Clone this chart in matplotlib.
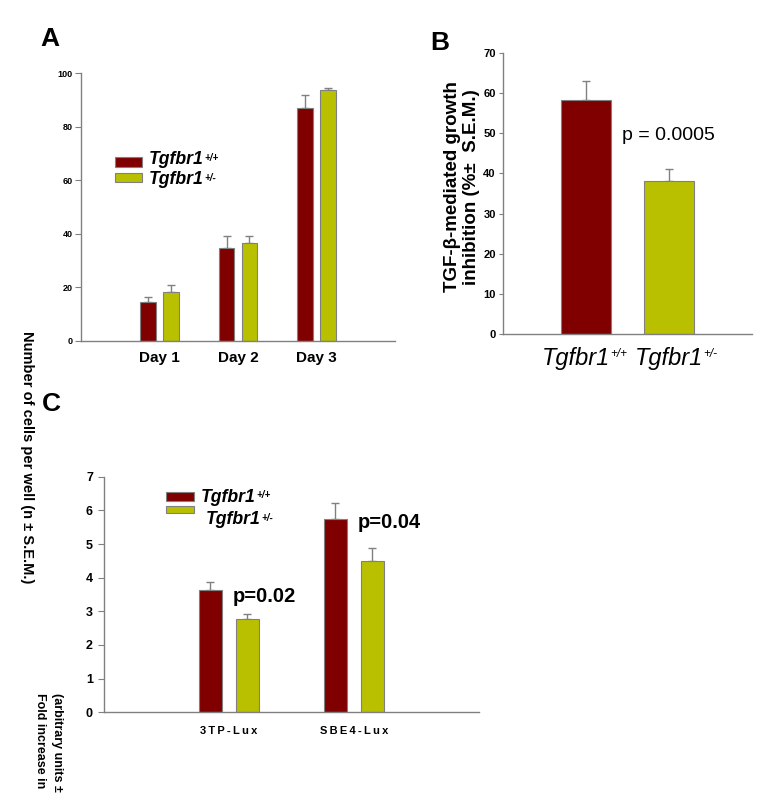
import matplotlib
matplotlib.use('Agg')
from matplotlib import pyplot as plt
from matplotlib.patches import Rectangle
from matplotlib.text import Annotation
import numpy as np

plt.rcParams['font.family'] = ['Liberation Sans', 'DejaVu Sans']

W, H = 777, 800
RED = '#800000'
GREEN = '#b8c000'
GRAY = '#808080'

# Panel A: cell counts per day
days = ['Day 1', 'Day 2', 'Day 3']
a_wt = [14.7, 34.7, 87.2]
a_wt_err = [1.8, 4.6, 4.6]
a_het = [18.2, 36.7, 93.6]
a_het_err = [2.7, 2.6, 1.0]

# Panel B: growth inhibition
b_vals = [58.3, 38.0]
b_err = [4.9, 3.0]

# Panel C: reporter activity
reporters = ['3TP-Lux', 'SBE4-Lux']
c_wt = [3.63, 5.75]
c_wt_err = [0.23, 0.46]
c_het = [2.76, 4.50]
c_het_err = [0.15, 0.39]

gene = 'Tgfbr1'
geno_wt = '+/+'
geno_het = '+/-'

fig = plt.figure(figsize=(W / 100, H / 100), dpi=100)


def px_axes(x0, y0, x1, y1):
    return fig.add_axes([x0 / W, 1 - y1 / H, (x1 - x0) / W, (y1 - y0) / H])


def style_axes(ax):
    for s in ['top', 'right']:
        ax.spines[s].set_visible(False)
    for s in ['left', 'bottom']:
        ax.spines[s].set_color(GRAY)
        ax.spines[s].set_linewidth(1.0)
    ax.tick_params(axis='y', color=GRAY, direction='out')
    ax.tick_params(axis='x', length=0)


def bars(ax, x, vals, err, color, width):
    ax.bar(x, vals, width=width, color=color, edgecolor=GRAY, linewidth=0.8, zorder=2)
    ax.errorbar(x, vals, yerr=[np.zeros(len(vals)), err], fmt='none',
                ecolor=GRAY, elinewidth=1, capsize=3, capthick=1, zorder=1)


def legend_patch(x, y, w, h, color):
    fig.add_artist(Rectangle((x / W, 1 - (y + h) / H), w / W, h / H,
                             transform=fig.transFigure, facecolor=color,
                             edgecolor=GRAY, linewidth=0.8))


def ftext(x, y, s, **kw):
    return fig.text(x / W, 1 - y / H, s, **kw)


def sup_label(x, y, base, sup, size, sup_size, ha='left', weight='normal'):
    t = ftext(x, y, base, fontsize=size, fontstyle='italic', fontweight=weight,
              ha=ha, va='center')
    a = Annotation(sup, xy=(1, 1), xycoords=t, xytext=(0.3, -1),
                   textcoords='offset points', fontsize=sup_size,
                   fontstyle='italic', fontweight=weight, ha='left', va='top')
    fig.add_artist(a)


# ---- Panel A
ax = px_axes(81, 73.3, 395, 341)
style_axes(ax)
xa = np.arange(len(days))
bars(ax, xa - 0.146, a_wt, a_wt_err, RED, 0.2)
bars(ax, xa + 0.146, a_het, a_het_err, GREEN, 0.2)
ax.set_xlim(-1, 3)
ax.set_ylim(0, 100)
ax.set_yticks([0, 20, 40, 60, 80, 100])
ax.tick_params(axis='y', labelsize=6.5, length=4, pad=2)
for t in ax.get_yticklabels():
    t.set_fontweight('bold')
ax.set_xticks(xa)
ax.set_xticklabels(days, fontsize=11, fontweight='bold')
ax.tick_params(axis='x', pad=7)

legend_patch(115, 156.7, 27, 10, RED)
legend_patch(115, 173, 27, 8.7, GREEN)
sup_label(149, 160, gene, geno_wt, 12.7, 7, weight='bold')
sup_label(149, 180, gene, geno_het, 12.7, 7, weight='bold')

# ---- Panel B
ax = px_axes(502.7, 53.3, 751.7, 333.7)
style_axes(ax)
xb = np.arange(len(b_vals))
ax.bar(xb, b_vals, width=0.6, color=[RED, GREEN], edgecolor=GRAY, linewidth=0.8, zorder=2)
ax.errorbar(xb, b_vals, yerr=[np.zeros(len(b_vals)), b_err], fmt='none',
            ecolor=GRAY, elinewidth=1, capsize=3, capthick=1, zorder=1)
ax.set_xlim(-1, 2)
ax.set_ylim(0, 70)
ax.set_yticks(range(0, 71, 10))
ax.tick_params(axis='y', labelsize=8, length=3, pad=2)
for t in ax.get_yticklabels():
    t.set_fontweight('bold')
ax.set_xticks(xb)
ax.set_xticklabels([])
ax.text(0.44, 49.6, 'p = 0.0005', fontsize=14, va='center', ha='left')
sup_label(610, 358, gene, geno_wt, 17, 8.5, ha='right')
sup_label(703, 358, gene, geno_het, 17, 8.5, ha='right')
ftext(462, 187, 'TGF-\u03b2-mediated growth\ninhibition (%\u00b1  S.E.M.)',
      fontsize=13.5, fontweight='bold', rotation=90, ha='center', va='center',
      multialignment='center', linespacing=1.15)

# ---- Panel C
ax = px_axes(104, 476.7, 479, 712.3)
style_axes(ax)
xc = np.arange(len(reporters))
bars(ax, xc - 0.148, c_wt, c_wt_err, RED, 0.18)
bars(ax, xc + 0.148, c_het, c_het_err, GREEN, 0.18)
ax.set_xlim(-1, 2)
ax.set_ylim(0, 7)
ax.set_yticks(range(0, 8))
ax.tick_params(axis='y', labelsize=9, length=4, pad=4)
for t in ax.get_yticklabels():
    t.set_fontweight('bold')
ax.set_xticks(xc)
ax.set_xticklabels(['\u2009'.join(r) for r in reporters], fontsize=8, fontweight='bold')
ax.tick_params(axis='x', pad=10)
ax.text(0.03, 3.43, 'p=0.02', fontsize=14.5, fontweight='bold', va='center', ha='left')
ax.text(1.03, 5.63, 'p=0.04', fontsize=14.5, fontweight='bold', va='center', ha='left')

legend_patch(165.7, 491.7, 28.6, 9.3, RED)
legend_patch(165.7, 506, 28.6, 7.3, GREEN)
sup_label(201, 497, gene, geno_wt, 12.7, 7, weight='bold')
sup_label(206, 520, gene, geno_het, 12.7, 7, weight='bold')

# ---- panel letters and side labels
ftext(40, 39, 'A', fontsize=19, fontweight='bold', va='center', ha='left')
ftext(430, 43, 'B', fontsize=19, fontweight='bold', va='center', ha='left')
ftext(42, 404, 'C', fontsize=19, fontweight='bold', va='center', ha='left')

ftext(27, 457, 'Number of cells per well (n \u00b1 S.E.M.)', fontsize=10.5,
      fontweight='bold', rotation=270, ha='center', va='center')
ftext(40, 693, 'Fold increase in', fontsize=9, fontweight='bold',
      rotation=270, ha='center', va='top')
ftext(57, 693, '(arbitrary units \u00b1', fontsize=9, fontweight='bold',
      rotation=270, ha='center', va='top')

plt.savefig('out.png', dpi=100)
